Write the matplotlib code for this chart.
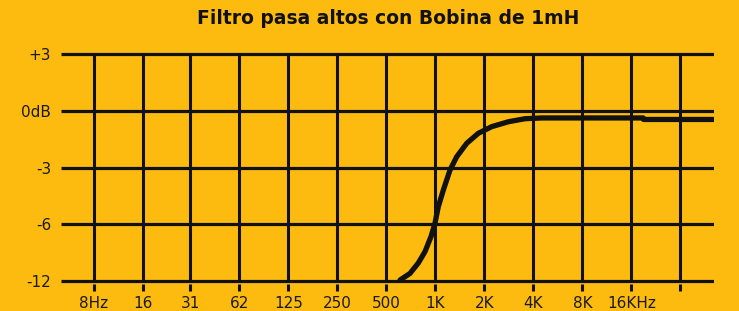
import numpy as np
import matplotlib
matplotlib.use("Agg")
from matplotlib import pyplot as plt

# frecuencias del eje x (Hz) y sus etiquetas
frecuencias = [8, 16, 31.25, 62.5, 125, 250, 500, 1000, 2000, 4000, 8000, 16000, 32000]
etiquetas_x = ["8Hz", "16", "31", "62", "125", "250", "500", "1K", "2K", "4K", "8K", "16KHz", ""]

# niveles del eje y (escala no lineal del original)
niveles_db = [-12, -6, -3, 0, 3]
etiquetas_y = ["-12", "-6", "-3", "0dB", "+3"]

# curva
curva_hz = [607, 699, 786, 864, 941, 995, 1043, 1120, 1231, 1353, 1559, 1837, 2220, 2808,
            3555, 4504, 8000, 16000, 18900, 19000, 51000]
curva_db = [-11.9, -11.2, -10.1, -8.9, -7.3, -5.95, -5.07, -4.19, -3.13, -2.43, -1.72, -1.19,
            -0.84, -0.58, -0.42, -0.38, -0.38, -0.38, -0.38, -0.46, -0.46]

fondo = "#fdbb10"
pos = [0, 1, 2, 3, 4]


def adelante(v):
    return np.interp(v, niveles_db, pos, left=-0.05, right=4.05)


def atras(p):
    return np.interp(p, pos, niveles_db)


fig = plt.figure(figsize=(7.39, 3.11), dpi=100, facecolor=fondo)
ax = fig.add_axes([61 / 739, 27.2 / 311, (714 - 61) / 739, 232.6 / 311])
ax.set_facecolor(fondo)
ax.set_xscale("log", base=2)
ax.set_yscale("function", functions=(adelante, atras))

xmin, xmax = 8 * 2 ** -0.67, 8 * 2 ** 12.65
ax.set_xlim(xmin, xmax)
ax.set_ylim(atras(-0.05) - 0.3, 3.15)

ax.hlines(niveles_db, xmin, xmax, color="#111111", lw=2.3, zorder=2)
ax.vlines(frecuencias, -12, 3, color="#111111", lw=2.2, zorder=2)

ax.plot(curva_hz, curva_db, color="#111111", lw=3.8, solid_capstyle="round",
        solid_joinstyle="round", zorder=3)

ax.set_xticks(frecuencias)
ax.set_xticklabels(etiquetas_x)
ax.xaxis.set_minor_locator(matplotlib.ticker.NullLocator())
ax.set_yticks(niveles_db)
ax.set_yticklabels(etiquetas_y)
ax.yaxis.set_minor_locator(matplotlib.ticker.NullLocator())
ax.tick_params(axis="x", length=5, width=2.2, color="#111111", direction="out", pad=4,
               labelsize=11, labelcolor="#1a1a1a")
ax.tick_params(axis="y", length=0, pad=7, labelsize=11, labelcolor="#1a1a1a")
for s in ax.spines.values():
    s.set_visible(False)

fig.text(0.525, 1 - 19 / 311, "Filtro pasa altos con Bobina de 1mH", ha="center", va="center",
         fontsize=13.5, fontweight="bold", color="#111111")

fig.savefig("out.png", dpi=100, facecolor=fondo)
